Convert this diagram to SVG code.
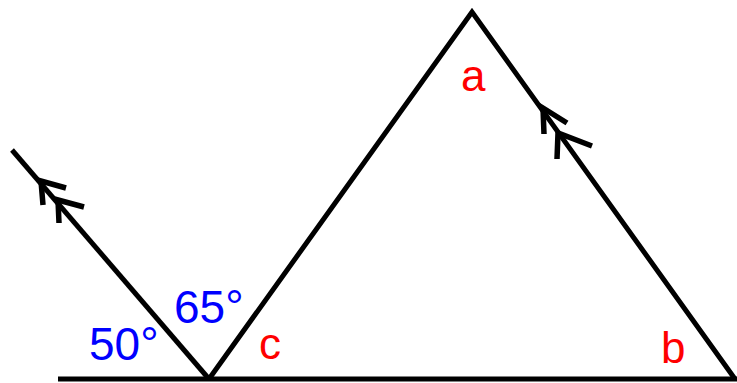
<svg xmlns="http://www.w3.org/2000/svg" width="737" height="383" viewBox="0 0 737 383">
<style>
.ln{fill:none;stroke:#000;stroke-width:5;stroke-linecap:butt;stroke-linejoin:miter}
.ar{fill:none;stroke:#000;stroke-width:5.5;stroke-linejoin:miter;stroke-linecap:butt}
.ang{font-family:"Liberation Sans",Arial,sans-serif;font-size:46px;fill:#0000ff}
.lbl{font-family:"Liberation Sans",Arial,sans-serif;font-size:44px;fill:#ff0000}
</style>
<rect width="737" height="383" fill="#fff"/>
<g id="connectors">
<line class="ln" x1="58" y1="379" x2="737" y2="379"/>
<line class="ln" x1="209" y1="379" x2="12" y2="150"/>
<polyline class="ln" points="209,379 472,12 735,379"/>
</g>
<g id="arrows-left">
<polyline class="ar" points="66,188 41,181 43,205"/>
<polyline class="ar" points="84,207 58,200 59,223"/>
</g>
<g id="arrows-right">
<polyline class="ar" points="567,123 543,108 544,134"/>
<polyline class="ar" points="592,146 558,133 557,159"/>
</g>
<g id="label-50"><text class="ang" x="89" y="360">50°</text></g>
<g id="label-65"><text class="ang" x="174" y="323">65°</text></g>
<g id="label-a"><text class="lbl" x="461" y="91">a</text></g>
<g id="label-b"><text class="lbl" x="661" y="363">b</text></g>
<g id="label-c"><text class="lbl" x="259" y="359">c</text></g>
</svg>
